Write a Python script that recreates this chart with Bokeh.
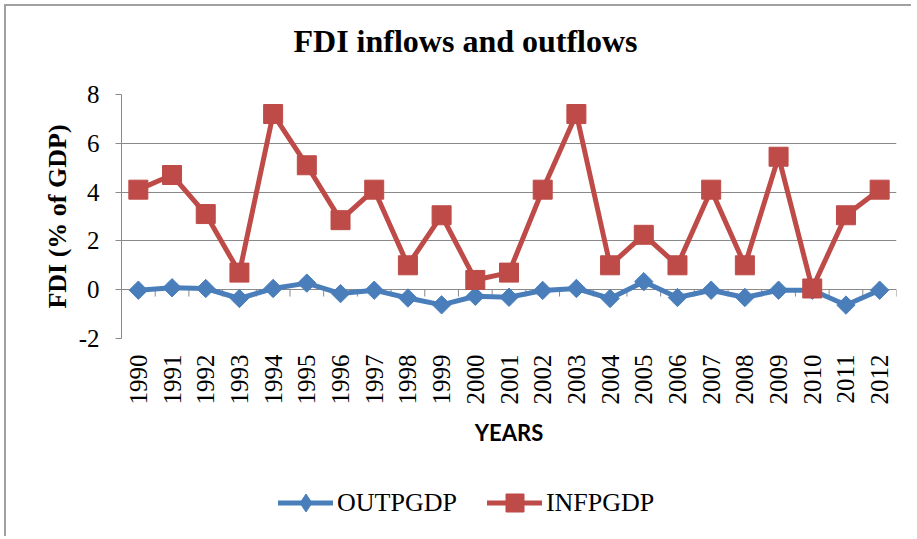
from bokeh.plotting import figure
from bokeh.layouts import column
from bokeh.models import (Range1d, FixedTicker, Legend, LegendItem, ColumnDataSource,
                          LinearAxis)
from bokeh.embed import file_html
from bokeh.resources import INLINE

years = ["1990", "1991", "1992", "1993", "1994", "1995", "1996", "1997", "1998", "1999",
         "2000", "2001", "2002", "2003", "2004", "2005", "2006", "2007", "2008", "2009",
         "2010", "2011", "2012"]
outpgdp = [-0.02, 0.08, 0.05, -0.36, 0.05, 0.27, -0.16, -0.02, -0.34, -0.62,
           -0.27, -0.31, -0.03, 0.05, -0.36, 0.33, -0.32, -0.02, -0.32, -0.02,
           -0.02, -0.63, -0.02]
infpgdp = [4.1, 4.7, 3.1, 0.7, 7.2, 5.1, 2.85, 4.1, 1.0, 3.05,
           0.4, 0.7, 4.1, 7.2, 1.0, 2.25, 1.0, 4.1, 1.0, 5.45,
           0.05, 3.05, 4.1]
y_ticks = [-2, 0, 2, 4, 6, 8]
series_names = ["OUTPGDP", "INFPGDP"]

title_text = "FDI inflows and outflows"
y_label = "FDI (% of GDP)"
x_label = "YEARS"

idx = list(range(len(years)))
src = ColumnDataSource(dict(x=idx, out=outpgdp, inf=infpgdp))

BLUE = "#4A7EBB"
RED = "#BE4B48"
GRID = "#898989"
SERIF = "Liberation Serif"

x_lo, x_hi = -0.5, len(years) - 0.5
p = figure(width=905, height=462, frame_width=775, frame_height=244,
           min_border_left=115, min_border_top=88, min_border_right=15, min_border_bottom=130,
           x_range=Range1d(x_lo, x_hi), y_range=Range1d(y_ticks[0], y_ticks[-1]),
           output_backend="svg", toolbar_location=None, tools="")
p.outline_line_color = None
p.background_fill_color = "white"
p.border_fill_color = "white"

# grid
p.xgrid.grid_line_color = None
p.ygrid.grid_line_color = GRID
p.ygrid.grid_line_width = 1
p.yaxis.ticker = FixedTicker(ticks=y_ticks)

# y axis
p.yaxis.axis_line_color = GRID
p.yaxis.major_tick_line_color = GRID
p.yaxis.major_tick_out = 6
p.yaxis.major_tick_in = 0
p.yaxis.minor_tick_line_color = None
p.yaxis.major_label_overrides = {t: str(t) for t in y_ticks}
p.yaxis.major_label_text_font = SERIF
p.yaxis.major_label_text_font_size = "25px"
p.yaxis.major_label_text_color = "black"
p.yaxis.major_label_standoff = 16
p.yaxis.axis_label = y_label
p.yaxis.axis_label_text_font = SERIF
p.yaxis.axis_label_text_font_style = "bold"
p.yaxis.axis_label_text_font_size = "26px"
p.yaxis.axis_label_text_color = "black"
p.yaxis.axis_label_standoff = 4

# x axis
p.xaxis.ticker = FixedTicker(ticks=idx)
p.xaxis.major_label_overrides = {i: y for i, y in zip(idx, years)}
p.xaxis.major_label_orientation = 1.5707963
p.xaxis.axis_line_color = None
p.xaxis.major_tick_line_color = None
p.xaxis.minor_tick_line_color = None
p.xaxis.major_label_text_font = SERIF
p.xaxis.major_label_text_font_size = "25px"
p.xaxis.major_label_text_color = "black"
p.xaxis.major_label_standoff = 10
p.xaxis.axis_label = x_label
p.xaxis.axis_label_text_font = "Lato"
p.xaxis.axis_label_text_font_style = "bold"
p.xaxis.axis_label_text_font_size = "22px"
p.xaxis.axis_label_text_color = "black"
p.xaxis.axis_label_standoff = 11

# chart title, drawn as the single label of an axis above the frame,
# centred over the whole chart
p.title.text = ""
title_pos = x_lo + (465 - 121) / 775 * (x_hi - x_lo)
title_axis = LinearAxis(ticker=FixedTicker(ticks=[title_pos]),
                        major_label_overrides={title_pos: title_text},
                        axis_line_color=None, major_tick_line_color=None,
                        minor_tick_line_color=None, major_tick_out=0, major_tick_in=0,
                        major_label_standoff=36, major_label_text_font=SERIF,
                        major_label_text_font_style="bold",
                        major_label_text_font_size="32px",
                        major_label_text_color="black")
p.add_layout(title_axis, "above")

# category separator ticks along the zero line
sep = [i - 0.5 for i in range(len(years) + 1)]
p.segment(x0=sep, y0=[0] * len(sep), x1=sep, y1=[-0.28] * len(sep),
          line_color=GRID, line_width=1)

# series
l1 = p.line("x", "out", source=src, line_color=BLUE, line_width=5, line_join="round")
m1 = p.scatter("x", "out", source=src, marker="square", angle=0.785398, size=13,
               fill_color=BLUE, line_color=BLUE)
l2 = p.line("x", "inf", source=src, line_color=RED, line_width=5, line_join="round")
m2 = p.scatter("x", "inf", source=src, marker="square", size=19, fill_color=RED,
               line_color=RED)

# legend strip beneath the chart: same series, same styles, drawn in a view window
# that shows none of the data, so only the legend is visible
lf = figure(width=905, height=68, min_border=0, x_axis_type=None, y_axis_type=None,
            x_range=Range1d(x_lo - 3, x_lo - 2), y_range=Range1d(0, 1),
            output_backend="svg", toolbar_location=None, tools="")
lf.outline_line_color = None
lf.xgrid.grid_line_color = None
lf.ygrid.grid_line_color = None
lg_l1 = lf.line("x", "out", source=src, line_color=BLUE, line_width=5, line_cap="round")
lg_m1 = lf.scatter("x", "out", source=src, marker="diamond", size=19, fill_color=BLUE,
                   line_color=BLUE)
lg_l2 = lf.line("x", "inf", source=src, line_color=RED, line_width=5, line_cap="round")
lg_m2 = lf.scatter("x", "inf", source=src, marker="square", size=18, fill_color=RED,
                   line_color=RED)
legend = Legend(items=[LegendItem(label=series_names[0], renderers=[lg_l1, lg_m1]),
                       LegendItem(label=series_names[1], renderers=[lg_l2, lg_m2])],
                orientation="horizontal", location=(157, 11),
                label_text_font=SERIF, label_text_font_size="26px",
                label_text_color="black", glyph_width=55, glyph_height=45,
                label_height=45, label_standoff=4, spacing=30, padding=0, margin=0,
                border_line_color=None, background_fill_alpha=0)
lf.add_layout(legend, "center")

page = column(p, lf, spacing=0)
page.styles = {"margin-left": "4px", "margin-top": "4px",
               "border-left": "2px solid #a0a0a0", "border-top": "2px solid #a0a0a0"}

open("out.html", "w").write(file_html(page, INLINE))
